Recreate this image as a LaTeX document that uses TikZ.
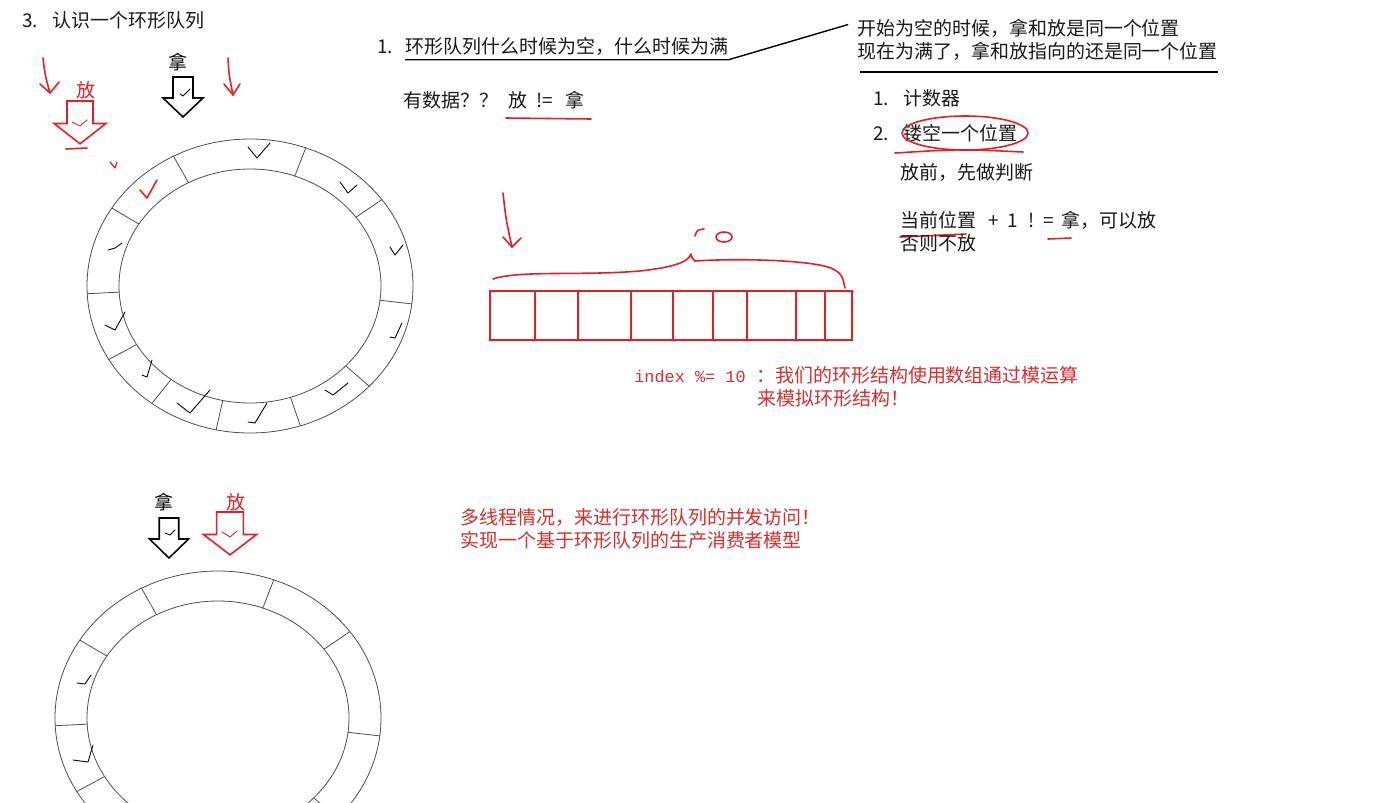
\documentclass[tikz,border=0pt]{standalone}
\usepackage{fontspec}
\setmainfont{Noto Sans CJK SC}
\newfontfamily\codefont{Liberation Mono}
\definecolor{penred}{RGB}{228,30,38}
\definecolor{notered}{RGB}{215,45,45}
\tikzset{
ringline/.style={draw=black!70, line width=0.45pt},
tick/.style={black, line width=0.5pt, line cap=round, line join=round},
handred/.style={penred, line width=0.9pt, line cap=round, line join=round},
txt/.style={anchor=west, inner sep=0pt, font=\fontsize{10.8}{13}\selectfont, text=black!90},
rednote/.style={txt, text=notered},
lbl/.style={inner sep=0pt, font=\fontsize{10.8}{13}\selectfont},
ring/.pic={
  \draw[ringline] (0,0) ellipse [x radius=163, y radius=147];
  \draw[ringline] (0,0) ellipse [x radius=131, y radius=117];
  \foreach \a in {7,43,72,102,127,150,177,212,242,290,324}
    \draw[ringline] ({131*cos(\a)},{117*sin(\a)}) -- ({163*cos(\a)},{147*sin(\a)});
  },
hollowarrow/.pic={
  \draw[line width=0.9pt, line join=miter] (-10,0) -- (10,0) -- (10,21) -- (20,21)
     -- (0,40) -- (-20,21) -- (-10,21) -- cycle;
  }
}
\begin{document}
\begin{tikzpicture}[x=0.02cm, y=-0.02cm]
\useasboundingbox (0,0) rectangle (1379,802);
\fill[white] (0,0) rectangle (1379,802);

% first ring
\pic at (250,286) {ring};
\node[lbl] (take1) at (178,62) {拿};
\pic at (183,77) {hollowarrow};
\node[lbl, text=penred] (put1) at (86,90) {放};
\pic[penred, xscale=1.3, yscale=1.07] at (80,101) {hollowarrow};
\draw[handred] (66,149) -- (87,148);
\draw[handred] (43,58) .. controls (45,75) .. (50,93);
\draw[handred] (40,84) -- (50,93) -- (59,82);
\draw[handred] (228,58) .. controls (229,75) .. (233,95);
\draw[handred] (224,84) -- (233,95) -- (240,84);
\draw[handred, line width=0.7pt] (110,162) -- (115,168) -- (117,162);
\draw[handred] (140,190) -- (147,198) -- (157,180);
\draw[tick] (180,94) -- (183,96) -- (190,89);
\draw[tick, penred] (72,122) -- (80,126) -- (87,120);
\draw[tick] (248,147) -- (257,158) -- (270,143);
\draw[tick] (340,182) -- (348,193) -- (357,185);
\draw[tick] (390,247) -- (395,255) -- (403,245);
\draw[tick] (390,337) -- (395,338) -- (402,323);
\draw[tick] (325,390) -- (333,395) -- (348,383);
\draw[tick] (248,422) -- (255,423) -- (267,403);
\draw[tick] (177,403) -- (190,413) -- (210,390);
\draw[tick] (142,375) -- (147,377) -- (152,360);
\draw[tick] (105,325) -- (115,330) -- (125,312);
\draw[tick] (108,250) -- (115,248) -- (122,243);

% second ring
\begin{scope}
\clip (0,0) rectangle (1379,802);
\pic at (218,718) {ring};
\end{scope}
\node[lbl] (take2) at (164,502) {拿};
\pic[xscale=0.975] at (169,518) {hollowarrow};
\node[lbl, text=penred] (put2) at (236,502) {放};
\pic[penred, xscale=1.33, yscale=1.07] at (230,512) {hollowarrow};
\draw[tick] (165,533) -- (170,535) -- (175,530);
\draw[tick, penred] (222,532) -- (230,537) -- (237,531);
\draw[tick] (77,683) -- (85,684) -- (91,675);
\draw[tick] (73,760) -- (88,762) -- (93,745);

% texts
\node[txt] (title) at (22,20) {\makebox[17pt][l]{3.}认识一个环形队列};
\node[txt] (q1) at (377,46) {\makebox[16pt][l]{1.}环形队列什么时候为空，什么时候为满};
\node[txt] (hasdata) at (403,100) {有数据？？\hspace{6pt}放\hspace{5pt}!=\hspace{7pt}拿};
\draw[handred] (506,118) -- (591,119);

\node[txt] (r1) at (857,28) {开始为空的时候，拿和放是同一个位置};
\node[txt] (r2) at (857,51) {现在为满了，拿和放指向的还是同一个位置};
\draw[line width=0.8pt] ([xshift=16pt, yshift=-2.5pt]q1.south west) -- ([yshift=-2.5pt]q1.south east)
   -- ([xshift=-5pt, yshift=2pt]r1.west);
\draw[line width=0.8pt] (860,72) -- (1218,72);
\node[txt] (m1) at (873,98) {\makebox[17pt][l]{1.}计数器};
\node[txt] (m2) at (873,133) {\makebox[17pt][l]{2.}镂空一个位置};
\draw[handred] (965,133) ellipse [x radius=63, y radius=17];
\draw[handred] (895,153) .. controls (960,149) .. (1023,152);
\node[txt] (m3) at (900,172) {放前，先做判断};
\node[txt] (m4) at (900,220) {当前位置\hspace{7pt}+\hspace{5pt}1\hspace{6pt}!\hspace{5pt}=\hspace{4pt}拿，可以放};
\draw[handred] (900,237) -- (966,234);
\draw[handred] (1048,239) -- (1071,238);
\node[txt] (m5) at (900,243) {否则不放};

% array
\draw[handred] (503,193) .. controls (506,220) .. (512,247);
\draw[handred] (503,237) -- (512,247) -- (521,238);
\draw[handred] (493,279) .. controls (520,270) and (580,276) .. (640,271)
   .. controls (675,267) and (688,262) .. (691,254) .. controls (692,258) .. (695,261)
   .. controls (740,258) and (820,260) .. (835,270) .. controls (842,275) .. (845,288);
\draw[handred] (695,236) .. controls (697,230) .. (704,229);
\draw[handred] (724,237) ellipse [x radius=8, y radius=5];
\draw[penred, line width=0.8pt] (490,291) rectangle (852,340);
\foreach \x in {535,578,631,673,713,747,796,825}
  \draw[penred, line width=0.8pt] (\x,291) -- (\x,340);
\node[rednote] (idx1) at (634,375) {{\codefont\fontsize{9.6}{12}\selectfont index \%= 10}\hspace{6pt}：我们的环形结构使用数组通过模运算};
\node[rednote] (idx2) at (757,398) {来模拟环形结构！};

\node[rednote] (mt1) at (460,517) {多线程情况，来进行环形队列的并发访问！};
\node[rednote] (mt2) at (460,540) {实现一个基于环形队列的生产消费者模型};
\end{tikzpicture}
\end{document}
